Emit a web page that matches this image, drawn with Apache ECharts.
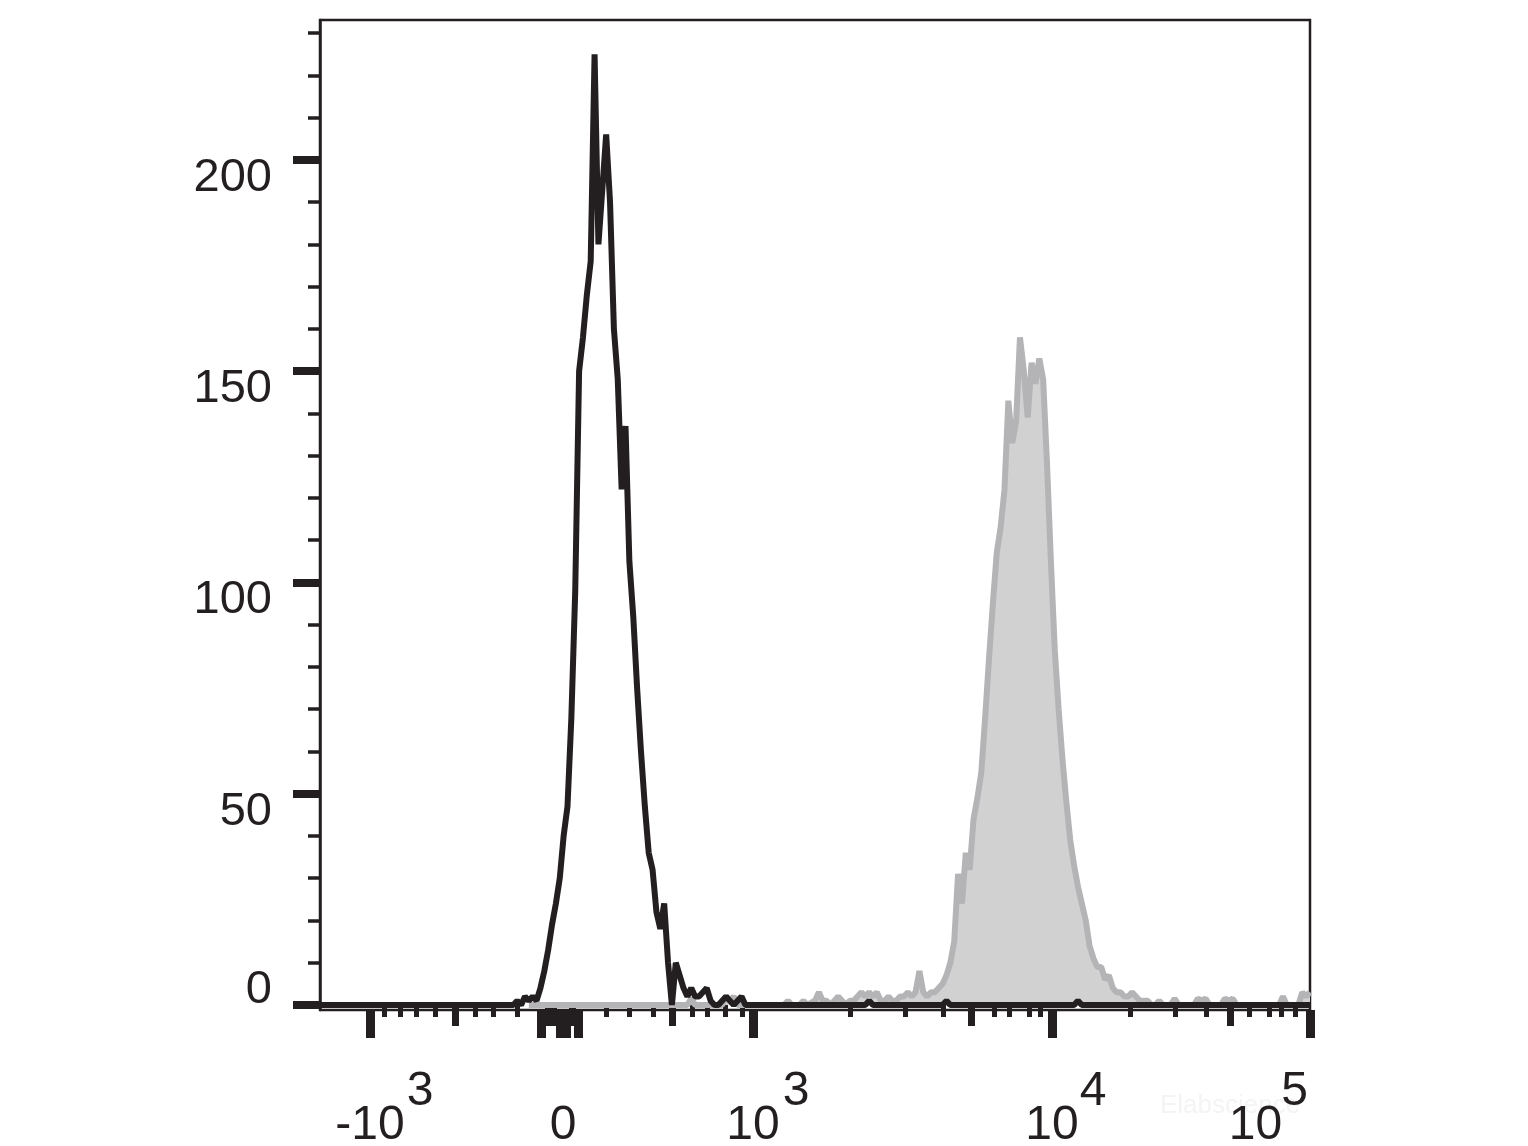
<!DOCTYPE html>
<html><head><meta charset="utf-8">
<script src="https://cdn.jsdelivr.net/npm/echarts@6/dist/echarts.min.js"></script>
<style>html,body{margin:0;padding:0;background:#fff}#c{width:1528px;height:1146px}</style>
</head><body><div id="c"></div>
<script>
// Histogram data: [display channel (0-256 biexponential bins), event count]
const blackHistogram = [
  [0,0],[50,0],[51,1],[52,0],[53,2],[54,1],[55,2],[56,1],[57,4],[58,8],[59,13],[60,19],[61,24],[62,30],
  [63,40],[64,47],[65,68],[66,98],[67,150],[68,158],[69,168],[70,176],[71,225],[72,180],[73,193],[74,206],
  [75,190],[76,160],[77,148],[78,122],[79,137],[80,105],[81,92],[82,75],[83,60],[84,47],[85,36],[86,32],
  [87,22],[88,18],[89,24],[90,10],[91,0],[92,10],[93,7],[94,4],[95,2],[96,4],[97,2],[98,2],[99,3],[100,4],
  [101,1],[102,0],[103,0],[104,1],[105,2],[106,1],[107,0],[108,1],[109,2],[110,0],
  [141,0],[142,1],[143,0],[161,0],[162,1],[163,0],[195,0],[196,1],[197,0],[256,0]
];
const greyHistogram = [
  [54,0],[95,0],[96,1.5],[97,0],[104,0],[105,2],[106,1],[107,2],[108,0],[120,0],[121,1],[122,0],[124,0],
  [125,1],[126,0],[128,1],[129,3],[130,1],[131,1],[132,0],[133,1],[134,2],[135,1],[136,0],[137,1],[138,1],
  [139,2],[140,3],[141,2],[142,3],[143,2],[144,3],[145,1],[146,1],[147,2],[148,1],[149,1],[150,2],[151,2],
  [152,3],[153,2],[154,3],[155,8],[156,3],[157,2],[158,3],[159,3],[160,4],[161,5],[162,7],[163,10],[164,15],
  [165,31],[166,24],[167,36],[168,32],[169,44],[170,49],[171,55],[172,68],[173,82],[174,95],[175,107],
  [176,113],[177,122],[178,143],[179,133],[180,138],[181,158],[182,150],[183,139],[184,152],[185,147],
  [186,153],[187,148],[188,128],[189,105],[190,84],[191,70],[192,58],[193,48],[194,39],[195,33],[196,28],
  [197,24],[198,20],[199,14],[200,11],[201,9],[202,9],[203,6],[204,7],[205,4],[206,3],[207,3],[208,2],
  [209,2],[210,3],[211,2],[212,1],[213,1],[214,1],[215,0],[216,0],[217,1],[218,0],[220,0],[221,1.5],[222,0],
  [226,0],[227,1.5],[228,1],[229,1.5],[230,0],[233,0],[234,1.5],[235,1],[236,1.5],[237,0],[248,0],[249,2],
  [250,0],[253,0],[254,3],[255,2],[256,3]
];

// Axis ticks
const yMajorTicks = [0, 50, 100, 150, 200];
const yMinorTicks = [10,20,30,40,60,70,80,90,110,120,130,140,160,170,180,190,210,220,230];
const xMajorTicks = [12.93, 62.84, 111.97, 189.28, 256];
const xMajorLabelBase = ['-10', '0', '10', '10', '10'];
const xMajorLabelExp = ['3', '', '3', '4', '5'];
const xClusterTicks = [57.15, 62.06, 63.61, 66.71];
const xMediumTicks = [34.91, 58.96, 60.25, 65.16, 91.02, 168.34, 235.31];
const xMinorTicks = [16.55, 20.87, 25.01, 29.74, 40.08, 44.73, 50.94, 73.95, 79.90, 86.11, 96.19, 100.07,
  104.73, 109.12, 137.05, 151.27, 161.10, 174.29, 178.17, 183.34, 186.18, 209.45, 221.09, 229.10, 240.22,
  245.40, 248.50, 252.12];

const ink = '#231f20';
const fam = "'Liberation Sans', Arial, sans-serif";
const xFont = {fontSize: 48, fontFamily: fam, color: ink, lineHeight: 48};
const yFont = {fontSize: 47, fontFamily: fam, color: ink, lineHeight: 47};

const xBase = {
  type: 'value', min: 0, max: 256, position: 'bottom', gridIndex: 0,
  splitLine: {show: false}, axisLine: {show: false}, axisLabel: {show: false}, axisTick: {show: false}
};
const yBase = {
  type: 'value', min: -1.2, max: 233.1, position: 'left', gridIndex: 0,
  splitLine: {show: false}, axisLine: {show: false}, axisLabel: {show: false}, axisTick: {show: false}
};

const chart = echarts.init(document.getElementById('c'), null, {renderer: 'canvas'});
chart.setOption({
  animation: false,
  backgroundColor: '#ffffff',
  grid: {left: 320, right: 218, top: 20, bottom: 136, show: true, borderColor: ink, borderWidth: 2.5,
         containLabel: false, outerBoundsMode: 'none'},
  xAxis: [
    Object.assign({}, xBase, {
      axisLine: {show: true, onZero: false, lineStyle: {color: ink, width: 2}},
      axisTick: {show: true, customValues: xMajorTicks.concat(xClusterTicks), length: 28, lineStyle: {color: ink, width: 9}},
      axisLabel: {
        show: true, customValues: xMajorTicks, margin: 92,
        formatter: function (v) {
          const i = xMajorTicks.indexOf(v);
          return i === xMajorTicks.length - 1 ? '{r|' + xMajorLabelBase[i] + '}' : '{b|' + xMajorLabelBase[i] + '}';
        },
        rich: {
          b: Object.assign({}, xFont),
          r: Object.assign({padding: [0, 109, 0, 0]}, xFont)
        }
      }
    }),
    Object.assign({}, xBase, {
      axisTick: {show: true, customValues: xMediumTicks, length: 21, lineStyle: {color: ink, width: 7}}
    }),
    Object.assign({}, xBase, {
      axisTick: {show: true, customValues: xMinorTicks, length: 12, lineStyle: {color: ink, width: 5}}
    }),
    Object.assign({}, xBase, {
      axisLabel: {
        show: true, customValues: xMajorTicks, margin: 58,
        formatter: function (v) {
          const i = xMajorTicks.indexOf(v);
          return xMajorLabelExp[i] ? '{e' + i + '|' + xMajorLabelExp[i] + '}' : '';
        },
        rich: {
          e0: Object.assign({padding: [0, 0, 0, 100]}, xFont),
          e2: Object.assign({padding: [0, 0, 0, 86]}, xFont),
          e3: Object.assign({padding: [0, 0, 0, 82]}, xFont),
          e4: Object.assign({padding: [0, 31, 0, 0]}, xFont)
        }
      }
    })
  ],
  yAxis: [
    Object.assign({}, yBase, {
      axisLine: {show: true, onZero: false, lineStyle: {color: ink, width: 2.5}},
      axisTick: {show: true, customValues: yMajorTicks, length: 27, lineStyle: {color: ink, width: 8}},
      axisLabel: {
        show: true, customValues: yMajorTicks, margin: 48,
        formatter: function (v) { return v === 0 ? '{z|0}' : '{n|' + v + '}'; },
        rich: {
          n: Object.assign({padding: [36, 0, 0, 0]}, yFont),
          z: Object.assign({padding: [0, 0, 30, 0]}, yFont)
        }
      }
    }),
    Object.assign({}, yBase, {
      axisTick: {show: true, customValues: yMinorTicks, length: 12, lineStyle: {color: ink, width: 3.5}}
    })
  ],
  graphic: [{
    type: 'text', left: 1160, top: 1093, z: -10, silent: true,
    style: {text: 'Elabscience', font: "26px 'Liberation Sans', Arial", fill: '#f4f4f4'}
  }],
  series: [
    {
      type: 'line', name: 'stained', data: greyHistogram, xAxisIndex: 0, yAxisIndex: 0,
      symbol: 'none', z: 2,
      lineStyle: {color: '#b4b4b7', width: 6},
      areaStyle: {color: '#d1d1d1', opacity: 1}
    },
    {
      type: 'line', name: 'control', data: blackHistogram, xAxisIndex: 0, yAxisIndex: 0,
      symbol: 'none', z: 3,
      lineStyle: {color: ink, width: 6}
    }
  ]
});
</script>
</body></html>
